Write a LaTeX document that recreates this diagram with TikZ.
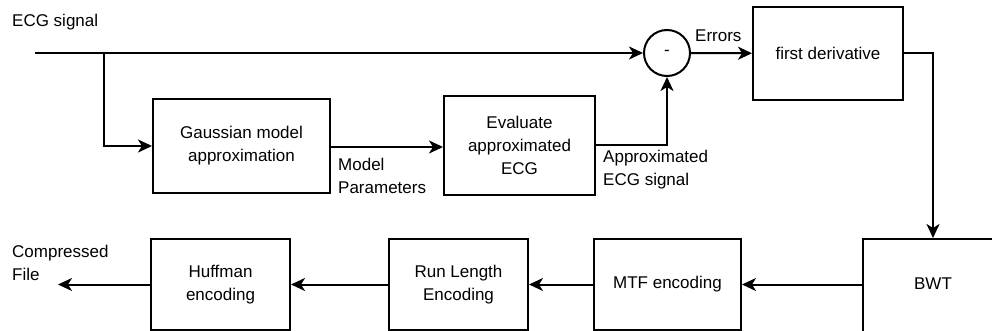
\documentclass[tikz,border=0pt]{standalone}
\usepackage{fontspec}
\setmainfont{Liberation Sans}
\usetikzlibrary{arrows.meta,shapes.geometric}
\begin{document}
\begin{tikzpicture}[x=1pt,y=-1pt,
  every node/.style={font=\fontsize{17}{23}\selectfont, inner sep=0pt},
  box/.style={draw, line width=2pt, align=center},
  lbl/.style={anchor=north west, align=left},
  arr/.style={line width=2pt, -{Stealth[length=14pt,width=13pt,inset=4pt]}},
  wire/.style={line width=2pt}]
\useasboundingbox (0,0) rectangle (992,331);

% labels
\node[anchor=base west] (ecglbl) at (12,27) {ECG signal};
\node[lbl] (mplbl) at (338,158) {Model\\Parameters};
\node[lbl] (aelbl) at (603,150) {Approximated\\ECG signal};
\node[anchor=base west] (errlbl) at (695,42) {Errors};
\node[lbl] (cflbl) at (12,245) {Compressed\\File};

% upper row
\node[box, minimum width=177, minimum height=94] (gauss) at (241.5,146) {Gaussian model\\approximation};
\node[box, minimum width=151, minimum height=99] (evalb) at (519.5,145.5) {Evaluate\\approximated\\ECG};
\node[draw, circle, line width=2pt, minimum size=46] (sub) at (667,53) {-};
\node[box, minimum width=150, minimum height=93] (deriv) at (828,53.5) {first derivative};

% lower row
\node[box, minimum width=140, minimum height=106, label={[yshift=8pt]center:BWT}] (bwt) at (933,292) {};
\node[box, minimum width=147, minimum height=91] (mtf) at (667.5,284.5) {MTF encoding};
\node[box, minimum width=139, minimum height=91] (rle) at (458.5,284.5) {Run Length\\Encoding};
\node[box, minimum width=139, minimum height=91] (huff) at (220.5,284.5) {Huffman\\encoding};

% connectors
\coordinate (start) at (35,53);
\coordinate (split) at (104,53);
\coordinate (out) at (58,284.5);
\draw[arr] (start) -- (sub);
\draw[arr] (split) |- (gauss.west);
\draw[arr] (gauss.east |- 0,147) -- (evalb.west |- 0,147);
\draw[arr] (evalb.east) -| (sub.south);
\draw[arr] (sub) -- (deriv);
\draw[arr] (deriv.east) -| (bwt.north);
\draw[arr] (mtf.east -| bwt.west) -- (mtf.east);
\draw[arr] (mtf) -- (rle);
\draw[arr] (rle) -- (huff);
\draw[arr] (huff) -- (out);
\end{tikzpicture}
\end{document}
